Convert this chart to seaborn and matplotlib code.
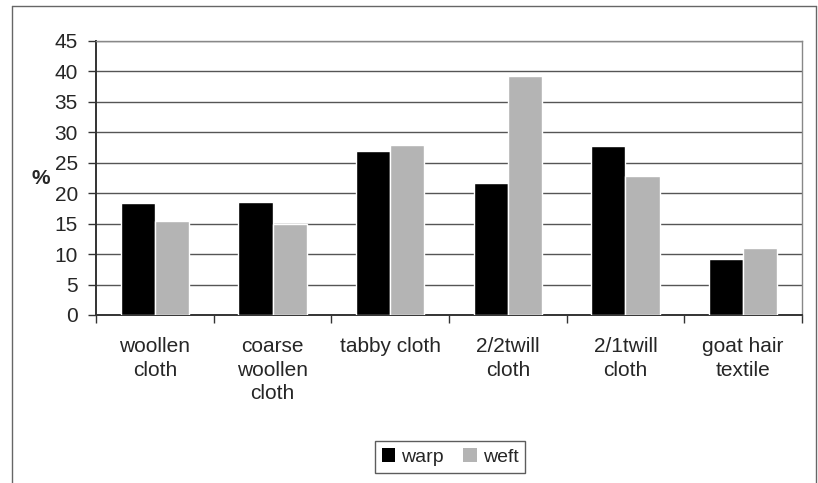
import matplotlib
matplotlib.use("Agg")
import matplotlib.pyplot as plt
import seaborn as sns
import pandas as pd
from matplotlib.lines import Line2D
from matplotlib.patches import Patch

categories = ["woollen\ncloth", "coarse\nwoollen\ncloth", "tabby cloth",
              "2/2twill\ncloth", "2/1twill\ncloth", "goat hair\ntextile"]
warp = [18.4, 18.5, 26.9, 21.6, 27.8, 9.2]
weft = [15.5, 15.0, 27.9, 39.2, 22.9, 11.0]
series = ["warp", "weft"]
yticks = [0, 5, 10, 15, 20, 25, 30, 35, 40, 45]

df = pd.DataFrame({
    "category": categories * 2,
    "value": warp + weft,
    "series": ["warp"] * len(categories) + ["weft"] * len(categories),
})

sns.set_style("white")
plt.rcParams["font.family"] = ["Liberation Sans", "DejaVu Sans"]

W, H = 818, 483
fig = plt.figure(figsize=(W / 100, H / 100), dpi=100)
left, right, top, bottom = 96, 802, 41, 315
ax = fig.add_axes([left / W, 1 - bottom / H, (right - left) / W, (bottom - top) / H])

palette = {"warp": "#000000", "weft": "#b4b4b4"}
sns.barplot(data=df, x="category", y="value", hue="series", palette=palette,
            width=0.58, saturation=1, ax=ax, legend=False, zorder=3)

ax.set_ylim(0, 45)
ax.set_xlim(-0.5, len(categories) - 0.5)
ax.set_yticks(yticks)
ax.yaxis.grid(True, color="#555555", linewidth=1.0, zorder=0)
ax.set_axisbelow(True)

for s in ["top", "right"]:
    ax.spines[s].set_color("#888888")
    ax.spines[s].set_linewidth(1.0)
for s in ["left", "bottom"]:
    ax.spines[s].set_color("#333333")
    ax.spines[s].set_linewidth(1.4)

ax.tick_params(axis="y", which="major", length=6, width=1, color="#333333",
               labelsize=15, pad=7, left=True)
ax.tick_params(axis="x", which="major", length=0, labelsize=15, pad=16)
ax.set_xticks(range(len(categories)))
ax.set_xticklabels(categories, linespacing=1.3)
ax.set_xticks([i + 0.5 for i in range(-1, len(categories))], minor=True)
ax.tick_params(axis="x", which="minor", length=6, width=1, color="#333333", bottom=True)

ax.set_xlabel("")
ax.set_ylabel("%", rotation=0, fontsize=15, fontweight="bold", va="center", ha="center")
ax.yaxis.set_label_coords(-0.078, 0.5)

handles = [Patch(facecolor=palette[s], edgecolor="none", label=s) for s in series]
leg = fig.legend(handles=handles, loc="center", bbox_to_anchor=(450 / W, 1 - 457 / H),
                 ncol=2, frameon=True, fontsize=14, handlelength=0.7, handleheight=0.7,
                 handletextpad=0.3, columnspacing=1.0, borderpad=0.35, fancybox=False)
leg.get_frame().set_edgecolor("#333333")
leg.get_frame().set_linewidth(1.0)

# outer chart frame
fx0, fx1, fy0 = 12 / W, 816 / W, 1 - 6 / H
for xs, ys in [([fx0, fx1], [fy0, fy0]), ([fx0, fx0], [fy0, 0]), ([fx1, fx1], [fy0, 0])]:
    fig.add_artist(Line2D(xs, ys, color="#666666", linewidth=1.0, transform=fig.transFigure))

fig.savefig("out.png", dpi=100)
